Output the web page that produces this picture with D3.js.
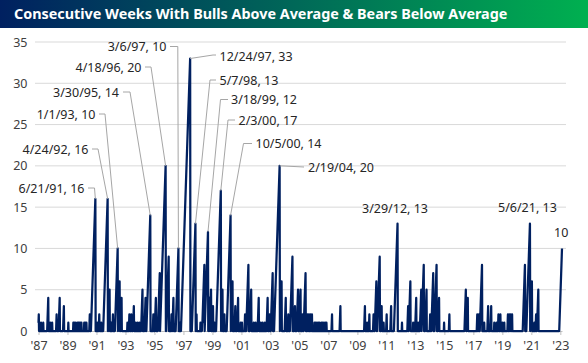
<!DOCTYPE html>
<html>
<head>
<meta charset="utf-8">
<script src="https://cdn.jsdelivr.net/npm/d3@7"></script>
<style>
  body { margin: 0; background: #fff; }
  svg { display: block; font-family: "Noto Sans", sans-serif; }
</style>
</head>
<body>
<div id="chart"></div>
<script>
// weekly survey, first and last week shown
const firstWeek = "1987-07-24";
const lastWeek = "2023-07-21";

// each streak: the week it ended and how many weeks it lasted
const streakEnds = [
  "1987-07-31", "1987-09-25", "1987-11-20", "1988-03-25", "1988-05-13", "1988-07-01",
  "1988-10-21", "1989-01-06", "1989-04-21", "1989-08-11", "1989-12-15", "1990-01-05",
  "1990-02-02", "1990-03-23", "1990-04-20", "1990-05-11", "1990-06-08", "1990-07-06",
  "1990-09-14", "1990-10-12", "1990-11-09", "1991-02-01", "1991-06-21", "1991-08-09",
  "1991-09-27", "1991-11-15", "1992-04-24", "1992-06-12", "1992-07-24", "1992-09-04",
  "1993-01-01", "1993-02-19", "1993-04-09", "1993-09-03", "1993-10-22", "1993-12-10",
  "1994-02-11", "1994-03-24", "1994-05-12", "1994-06-30", "1994-09-15", "1994-12-01",
  "1995-03-30", "1995-06-15", "1995-08-17", "1995-11-23", "1996-04-18", "1996-07-04",
  "1996-08-15", "1996-09-12", "1996-10-31", "1997-03-06", "1997-04-10", "1997-12-24",
  "1998-05-07", "1998-06-04", "1998-09-10", "1998-10-22", "1998-12-17", "1999-03-18",
  "1999-04-22", "1999-06-03", "1999-07-22", "1999-08-26", "2000-02-03", "2000-03-16",
  "2000-04-06", "2000-05-04", "2000-10-05", "2000-11-23", "2001-02-01", "2001-04-12",
  "2001-06-14", "2001-07-19", "2001-10-04", "2001-12-27", "2002-03-07", "2002-05-09",
  "2002-06-27", "2002-09-12", "2002-10-31", "2002-12-19", "2003-02-13", "2003-04-24",
  "2003-06-12", "2003-08-28", "2004-02-19", "2004-04-08", "2004-07-22", "2004-09-23",
  "2005-01-06", "2005-03-10", "2005-05-26", "2005-07-28", "2005-09-15", "2005-12-01",
  "2006-01-19", "2006-02-23", "2006-03-30", "2006-05-11", "2006-07-13", "2006-08-10",
  "2006-09-14", "2006-10-19", "2006-11-16", "2007-01-04", "2007-02-01", "2007-03-08",
  "2007-04-12", "2007-05-10", "2007-09-27", "2008-04-24", "2009-12-31", "2010-02-25",
  "2010-04-22", "2010-08-05", "2010-10-14", "2011-01-06", "2011-02-24", "2011-04-14",
  "2011-06-30", "2011-10-20", "2012-03-29", "2012-07-19", "2012-12-20", "2013-02-14",
  "2013-04-25", "2013-05-30", "2013-07-11", "2013-08-29", "2013-11-14", "2014-01-16",
  "2014-03-27", "2014-06-26", "2014-09-11", "2014-12-04", "2015-02-05", "2015-06-11",
  "2015-10-22", "2016-12-08", "2017-01-26", "2017-09-21", "2017-11-02", "2018-01-18",
  "2018-03-15", "2018-06-21", "2018-09-06", "2018-11-22", "2019-01-17", "2019-03-07",
  "2019-04-25", "2019-06-13", "2019-08-01", "2019-10-31", "2019-12-05", "2020-01-09",
  "2020-02-13", "2020-12-31", "2021-05-06", "2021-06-24", "2021-08-26", "2021-10-07",
  "2021-12-02", "2023-07-20"
];
const streakWeeks = [
  2, 1, 1, 4, 1, 1,
  2, 4, 3, 1, 1, 1,
  1, 1, 1, 1, 1, 1,
  1, 1, 1, 2, 16, 1,
  2, 1, 16, 5, 1, 2,
  10, 6, 4, 1, 2, 2,
  3, 1, 1, 1, 5, 4,
  14, 2, 4, 7, 20, 9,
  1, 2, 4, 10, 1, 33,
  13, 2, 1, 1, 8, 12,
  4, 5, 3, 1, 17, 5,
  1, 2, 14, 6, 3, 4,
  1, 1, 2, 8, 5, 1,
  1, 4, 1, 1, 1, 4,
  2, 7, 20, 6, 4, 2,
  9, 3, 5, 5, 2, 7,
  2, 2, 2, 2, 1, 1,
  1, 1, 1, 1, 1, 1,
  1, 1, 2, 3, 3, 1,
  2, 2, 6, 9, 3, 1,
  2, 3, 13, 1, 3, 6,
  1, 1, 4, 1, 5, 8,
  5, 2, 7, 8, 4, 1,
  2, 5, 4, 2, 2, 8,
  1, 3, 3, 1, 1, 2,
  2, 1, 1, 2, 2, 2,
  2, 8, 13, 6, 1, 2,
  5, 10
];

// annotated peaks
const labelDates = [
  "1991-06-21", "1992-04-24", "1993-01-01", "1995-03-30", "1996-04-18", "1997-03-06",
  "1997-12-24", "1998-05-07", "1999-03-18", "2000-02-03", "2000-10-05", "2004-02-19",
  "2012-03-29", "2021-05-06", "2023-07-20"
];
const labelValues = [16, 16, 10, 14, 20, 10, 33, 13, 12, 17, 14, 20, 13, 13, 10];

const yTicks = [0, 5, 10, 15, 20, 25, 30, 35];
const xTickLabels = ["'87", "'89", "'91", "'93", "'95", "'97", "'99", "'01", "'03", "'05",
  "'07", "'09", "'11", "'13", "'15", "'17", "'19", "'21", "'23"];

const title = "Consecutive Weeks With Bulls Above Average & Bears Below Average";

// where each annotation's text sits and how its leader bends (pixels)
const labelLayout = [
  { anchor: "end", tx: 84.5, ty: 188, bend: [[88, 188], [94.5, 188]] },
  { anchor: "end", tx: 88.5, ty: 149, bend: [[92, 149], [98, 149]] },
  { anchor: "end", tx: 95.5, ty: 114, bend: [[99, 114], [105, 114]] },
  { anchor: "end", tx: 119, ty: 92, bend: [[123, 92], [130, 92]] },
  { anchor: "end", tx: 141.5, ty: 67, bend: [[145, 67], [151, 67]] },
  { anchor: "end", tx: 166.5, ty: 46.5, bend: [[170, 46.5], [177.8, 46.5]] },
  { anchor: "start", tx: 219.5, ty: 56, bend: [[216, 55], [213, 55]] },
  { anchor: "start", tx: 219.5, ty: 80, bend: [[216, 80], [210, 80]] },
  { anchor: "start", tx: 231, ty: 99.5, bend: [[228, 99.5], [220.5, 99.5]] },
  { anchor: "start", tx: 238.5, ty: 120, bend: [[235, 120], [228, 120]] },
  { anchor: "start", tx: 255.5, ty: 143.5, bend: [[252, 143.5], [243.5, 143.5]] },
  { anchor: "start", tx: 308, ty: 167, bend: [[304, 167], [284, 166]] },
  { anchor: "start", tx: 362, ty: 208, bend: null },
  { anchor: "start", tx: 498, ty: 207, bend: null },
  { anchor: "start", tx: 554, ty: 232, bend: null }
];

const width = 588, height = 363;
const plot = { left: 38.5, right: 562, top: 42, bottom: 331 };

const parse = d3.timeParse("%Y-%m-%d");
const fmt = d3.timeFormat("%-m/%-d/%y");
const start = parse(firstWeek);
const nWeeks = Math.round((parse(lastWeek) - start) / (7 * 864e5)) + 1;
const weeks = d3.range(nWeeks).map(i => d3.timeDay.offset(start, 7 * i));
const weekIndex = d => Math.round((parse(d) - start) / (7 * 864e5));

// expand the streak list into the weekly counter
const counts = new Array(nWeeks).fill(0);
streakEnds.forEach((d, j) => {
  let end = weekIndex(d);
  let n = streakWeeks[j];
  for (let k = 0; k < n; k++) {
    if (end - k >= 0) counts[end - k] = n - k;
  }
});
const series = weeks.map((w, i) => ({ date: w, value: counts[i] }));

let svg = d3.select("#chart").append("svg")
  .attr("width", width)
  .attr("height", height);

// title bar
let grad = svg.append("defs").append("linearGradient")
  .attr("id", "titleGrad")
  .attr("x1", "0%").attr("x2", "100%");
grad.append("stop").attr("offset", "0%").attr("stop-color", "#002060");
grad.append("stop").attr("offset", "100%").attr("stop-color", "#00b050");

svg.append("rect")
  .attr("x", 0).attr("y", 0)
  .attr("width", width).attr("height", 28)
  .attr("fill", "url(#titleGrad)");

let titleText = svg.append("text")
  .attr("x", 14).attr("y", 14)
  .attr("dy", "0.36em")
  .attr("fill", "#fff")
  .attr("font-weight", "bold")
  .attr("font-size", 17)
  .text(title);
let tw = titleText.node().getComputedTextLength();
titleText.attr("font-size", 17 * 494 / tw);

let x = d3.scaleTime()
  .domain([weeks[0], weeks[nWeeks - 1]])
  .range([plot.left, plot.right]);

let y = d3.scaleLinear()
  .domain([0, 35])
  .range([plot.bottom, plot.top]);

// gridlines + y labels
svg.append("g")
  .selectAll("line")
  .data(yTicks.filter(d => d > 0))
  .enter().append("line")
  .attr("x1", 35).attr("x2", 566)
  .attr("y1", d => y(d)).attr("y2", d => y(d))
  .attr("stroke", "#d9d9d9")
  .attr("stroke-width", 1);

svg.append("g")
  .selectAll("text")
  .data(yTicks)
  .enter().append("text")
  .attr("x", 27.5)
  .attr("y", d => y(d))
  .attr("dy", "0.36em")
  .attr("text-anchor", "end")
  .attr("font-size", 12.5)
  .attr("fill", "#404040")
  .text(d => d);

// x axis, one tick every 104 weeks
let tickDates = xTickLabels.map((d, i) => weeks[Math.min(i * 104, nWeeks - 1)]);
let xAxis = svg.append("g")
  .attr("transform", "translate(0," + plot.bottom + ")")
  .call(d3.axisBottom(x)
    .tickValues(tickDates)
    .tickFormat((d, i) => xTickLabels[i])
    .tickSize(4)
    .tickSizeOuter(0));
xAxis.select(".domain").attr("stroke", "#bfbfbf");
xAxis.selectAll(".tick line").attr("stroke", "#bfbfbf");
xAxis.selectAll(".tick text")
  .attr("font-family", "Noto Sans, sans-serif")
  .attr("font-size", 12.5)
  .attr("fill", "#404040")
  .attr("dy", "0.95em");

// the weekly line
let line = d3.line()
  .x(d => x(d.date))
  .y(d => y(d.value));

svg.append("path")
  .datum(series)
  .attr("d", line)
  .attr("fill", "none")
  .attr("stroke", "#002060")
  .attr("stroke-width", 2.25)
  .attr("stroke-linejoin", "round");

// annotations
let notes = labelDates.map((d, i) => {
  let wi = weekIndex(d);
  return {
    px: x(weeks[wi]),
    py: y(labelValues[i]),
    text: i === labelDates.length - 1 ? String(labelValues[i]) : fmt(parse(d)) + ", " + labelValues[i],
    layout: labelLayout[i]
  };
});

svg.append("g")
  .selectAll("polyline")
  .data(notes.filter(d => d.layout.bend))
  .enter().append("polyline")
  .attr("points", d => d.layout.bend.concat([[d.px, d.py]]).map(p => p.join(",")).join(" "))
  .attr("fill", "none")
  .attr("stroke", "#a6a6a6")
  .attr("stroke-width", 1);

svg.append("g")
  .selectAll("text")
  .data(notes)
  .enter().append("text")
  .attr("x", d => d.layout.tx)
  .attr("y", d => d.layout.ty)
  .attr("dy", "0.36em")
  .attr("text-anchor", d => d.layout.anchor)
  .attr("font-size", 12.5)
  .attr("fill", "#262626")
  .text(d => d.text);
</script>
</body>
</html>
